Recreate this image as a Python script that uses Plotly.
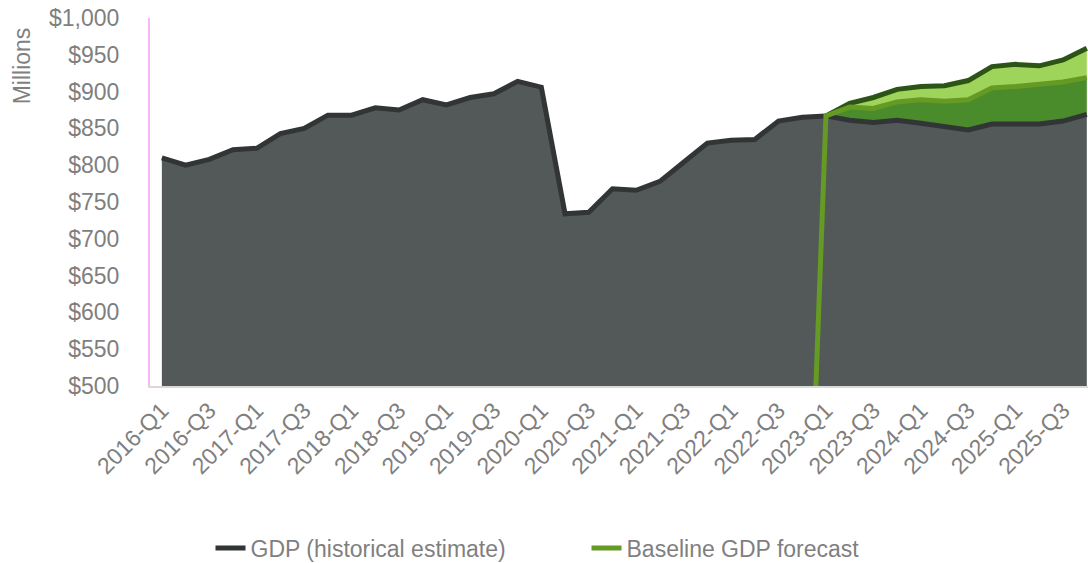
import plotly.graph_objects as go

quarters = [f"{y}-Q{q}" for y in range(2016, 2026) for q in range(1, 5)]

# GDP historical estimate, 2016-Q1 .. 2023-Q1 (millions)
gdp_hist = [810, 800, 808, 821, 823, 843, 850, 868, 868, 878, 875, 889,
            882, 892, 897, 914, 906, 734, 736, 768, 766, 778, 804, 830,
            834, 835, 860, 865, 867]
# Lower forecast bound, 2023-Q1 .. 2025-Q4
gdp_low = [867, 861, 858, 861, 857, 852, 848, 856, 856, 856, 860, 869]
# Baseline forecast (blank cells plotted as zero until 2022-Q4)
baseline = [0] * 28 + [867, 879, 877, 886, 889, 887, 889, 905, 907, 910, 913, 919]
# Upper forecast bound, 2023-Q1 .. 2025-Q4
gdp_high = [867, 884, 892, 903, 907, 908, 915, 934, 937, 935, 943, 959]

ytick_vals = list(range(500, 1001, 50))
ytick_text = [f"${v:,}" for v in ytick_vals]
xtick_vals = quarters[::2]

hist_x = quarters[:len(gdp_hist)]
fc_x = quarters[len(gdp_hist) - 1:]
lower_all = gdp_hist + gdp_low[1:]

FONT = "Liberation Sans, Arial, sans-serif"
GREY_TXT = "#7f7f7f"

fig = go.Figure()
# grey fill under the lower line
fig.add_trace(go.Scatter(x=quarters, y=lower_all, mode="lines", fill="tozeroy",
                         fillcolor="#535859", line=dict(width=0), showlegend=False,
                         hoverinfo="skip"))
# band fills
fig.add_trace(go.Scatter(x=fc_x, y=gdp_low, mode="lines", line=dict(width=0),
                         showlegend=False, hoverinfo="skip"))
fig.add_trace(go.Scatter(x=fc_x, y=baseline[len(gdp_hist) - 1:], mode="lines",
                         fill="tonexty", fillcolor="#4a8b2c", line=dict(width=0),
                         showlegend=False, hoverinfo="skip"))
fig.add_trace(go.Scatter(x=fc_x, y=gdp_high, mode="lines", fill="tonexty",
                         fillcolor="#9fd45a", line=dict(width=0),
                         showlegend=False, hoverinfo="skip"))
# lines
fig.add_trace(go.Scatter(x=fc_x, y=gdp_low, mode="lines",
                         line=dict(color="#323536", width=5), showlegend=False))
fig.add_trace(go.Scatter(x=fc_x, y=gdp_high, mode="lines",
                         line=dict(color="#2c5416", width=5), showlegend=False))
fig.add_trace(go.Scatter(x=hist_x, y=gdp_hist, mode="lines", name="GDP (historical estimate)",
                         line=dict(color="#323536", width=5)))
fig.add_trace(go.Scatter(x=quarters, y=baseline, mode="lines", name="Baseline GDP forecast",
                         line=dict(color="#659a25", width=5)))

fig.update_layout(
    width=1088, height=563,
    margin=dict(l=150, r=0, t=18, b=177),
    paper_bgcolor="white", plot_bgcolor="white",
    font=dict(family=FONT, size=23, color=GREY_TXT),
    showlegend=True,
    legend=dict(orientation="h", x=0.0645, xanchor="left", xref="paper",
                y=0.0266, yanchor="middle", yref="container",
                font=dict(size=23, color=GREY_TXT), entrywidth=331, traceorder="normal",
                bgcolor="rgba(0,0,0,0)"),
    annotations=[dict(text="Millions", x=-0.137, xref="paper", y=0.98, yref="paper",
                      textangle=-90, showarrow=False, xanchor="center", yanchor="top",
                      font=dict(size=23, color=GREY_TXT))],
)
fig.update_xaxes(type="category", categoryorder="array", categoryarray=quarters,
                 range=[-0.5, 39.05], tickmode="array", tickvals=xtick_vals,
                 tickangle=-45, showgrid=False, showline=True, linecolor="#d9d9d9",
                 linewidth=2, ticks="", automargin=False, ticklabeloverflow="allow",
                 tickfont=dict(size=23, color=GREY_TXT))
fig.update_yaxes(range=[500, 1000], tickmode="array", tickvals=ytick_vals,
                 ticktext=ytick_text, showgrid=False, showline=True, linecolor="#fbb6f8",
                 linewidth=2, ticks="", ticklabelstandoff=24, zeroline=False,
                 automargin=False, ticklabeloverflow="allow",
                 tickfont=dict(size=23, color=GREY_TXT))

# remove the browser's default 8px body margin so the figure fills the window
fig.write_html("out.html", config={"displayModeBar": False},
               post_script="document.body.style.margin='0';")
